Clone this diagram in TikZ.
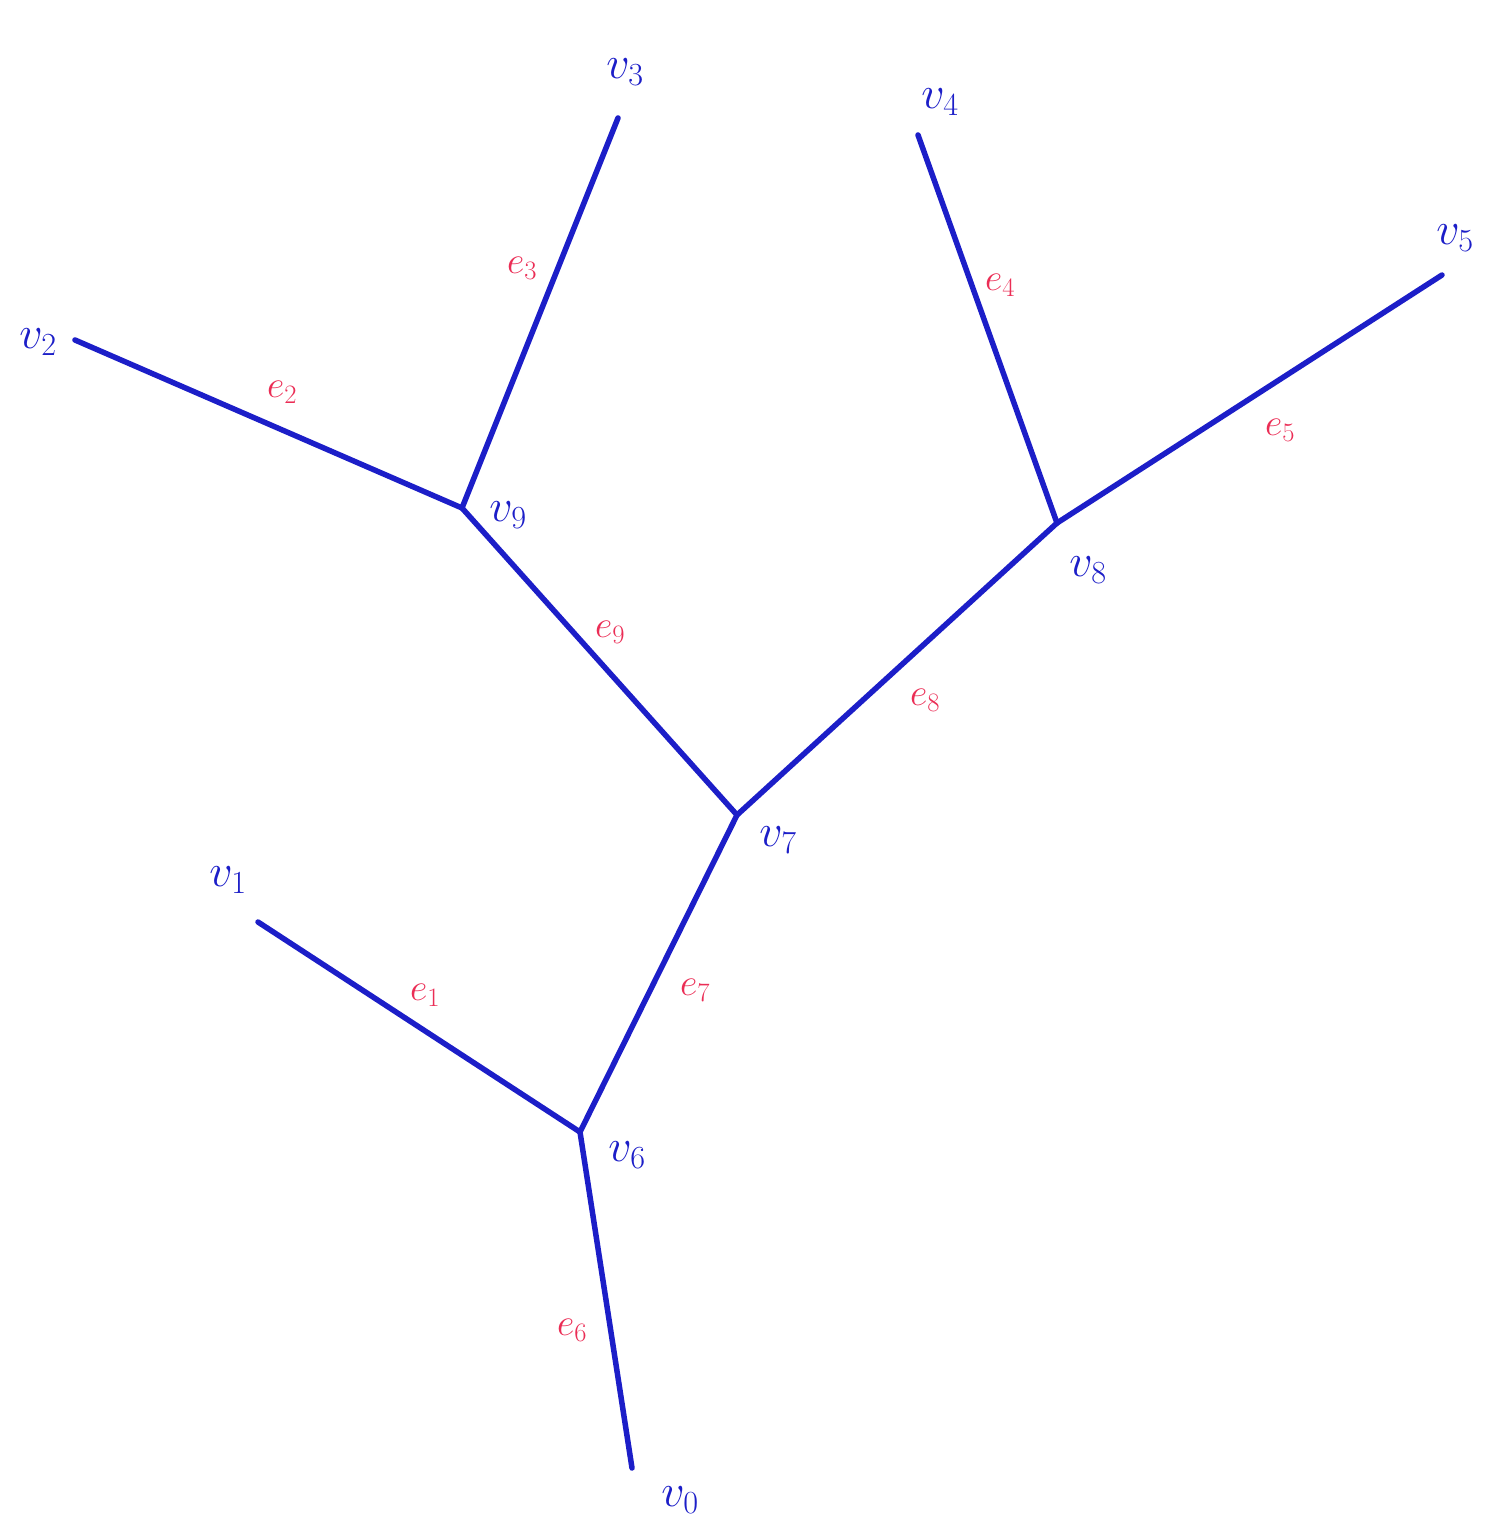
\RequirePackage{fix-cm}
\documentclass[tikz,border=0pt]{standalone}
\usepackage{xcolor}
\definecolor{inkblue}{RGB}{28,30,200}
\definecolor{inkred}{RGB}{235,45,85}
\begin{document}
\begin{tikzpicture}[x=1pt,y=-1pt,
  edge/.style={draw=inkblue,line width=5.5pt,line cap=round,line join=round},
  vlab/.style={text=inkblue,font=\fontsize{46}{50}\selectfont},
  elab/.style={text=inkred,font=\fontsize{38}{42}\selectfont}]
\useasboundingbox[fill=white] (0,0) rectangle (1496,1536);
% vertices
\coordinate (v0) at (632,1468);
\coordinate (v1) at (258,922);
\coordinate (v2) at (75,340);
\coordinate (v3) at (618,118);
\coordinate (v4) at (918,135);
\coordinate (v5) at (1442,275);
\coordinate (v6) at (580,1132);
\coordinate (v7) at (737,815);
\coordinate (v8) at (1057,523);
\coordinate (v9) at (462,508);
% edges
\draw[edge] (v1) -- (v6);
\draw[edge] (v2) -- (v9);
\draw[edge] (v3) -- (v9);
\draw[edge] (v4) -- (v8);
\draw[edge] (v5) -- (v8);
\draw[edge] (v6) -- (v0);
\draw[edge] (v6) -- (v7);
\draw[edge] (v7) -- (v8);
\draw[edge] (v7) -- (v9);
% vertex labels
\node[vlab] (l0) at (680,1500) {$v_0$};
\node[vlab] (l1) at (228,880) {$v_1$};
\node[vlab] (l2) at (38,342) {$v_2$};
\node[vlab] (l3) at (625,72) {$v_3$};
\node[vlab] (l4) at (940,102) {$v_4$};
\node[vlab] (l5) at (1455,238) {$v_5$};
\node[vlab] (l6) at (627,1155) {$v_6$};
\node[vlab] (l7) at (778,840) {$v_7$};
\node[vlab] (l8) at (1088,570) {$v_8$};
\node[vlab] (l9) at (508,515) {$v_9$};
% edge labels
\node[elab] (e1) at (425,995) {$e_1$};
\node[elab] (e2) at (282,392) {$e_2$};
\node[elab] (e3) at (522,268) {$e_3$};
\node[elab] (e4) at (1000,285) {$e_4$};
\node[elab] (e5) at (1280,430) {$e_5$};
\node[elab] (e6) at (572,1330) {$e_6$};
\node[elab] (e7) at (695,990) {$e_7$};
\node[elab] (e8) at (925,700) {$e_8$};
\node[elab] (e9) at (610,632) {$e_9$};
\end{tikzpicture}
\end{document}
